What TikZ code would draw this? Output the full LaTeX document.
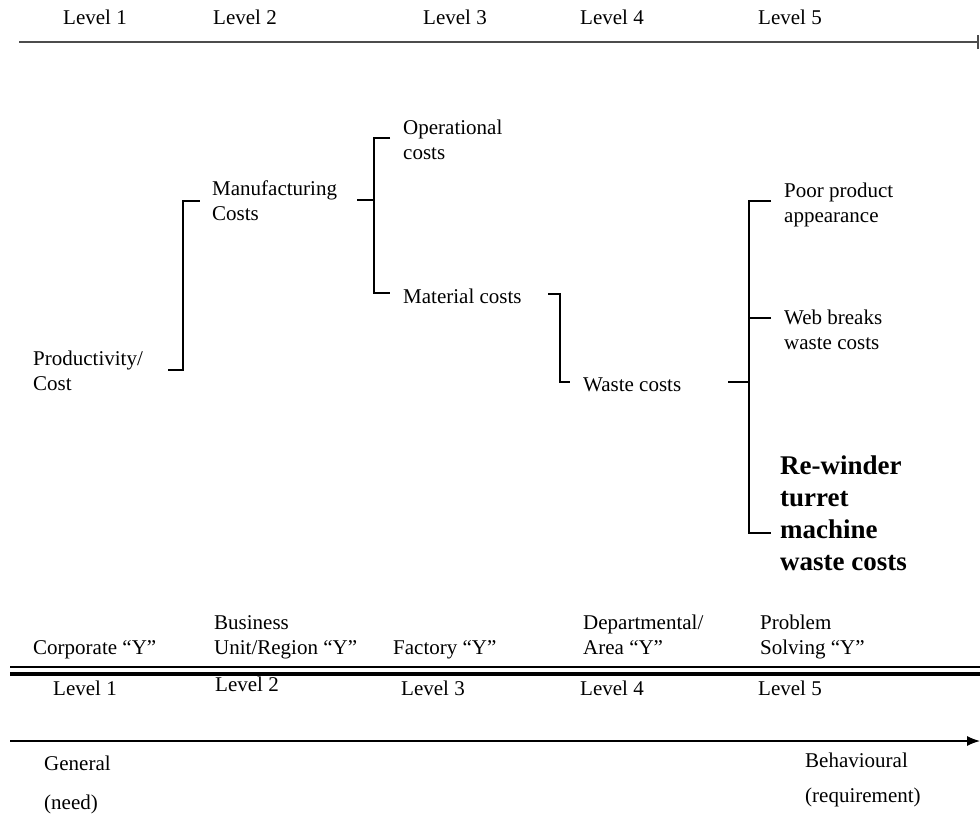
\documentclass[tikz,border=0pt]{standalone}
\usepackage{fontspec}
\setmainfont{Liberation Serif}
\usetikzlibrary{arrows.meta}
\begin{document}
\begin{tikzpicture}[x=1pt,y=-1pt,
  lbl/.style={anchor=base west,inner sep=0pt,font=\fontsize{21}{25}\selectfont,align=left},
  lvl/.style={anchor=base,inner sep=0pt,font=\fontsize{21}{25}\selectfont},
  boldlbl/.style={anchor=base west,inner sep=0pt,font=\fontsize{27}{32}\selectfont\bfseries,align=left},
  brk/.style={line width=1.3pt,black},
  brtick/.style={line width=2pt,black},
  axis/.style={line width=1.4pt,black!70}]
\useasboundingbox (0,0) rectangle (980,815);
% top axis
\node[lvl] (t1) at (95,24) {Level 1};
\node[lvl] (t2) at (245,24) {Level 2};
\node[lvl] (t3) at (455,24) {Level 3};
\node[lvl] (t4) at (612,24) {Level 4};
\node[lvl] (t5) at (790,24) {Level 5};
\coordinate (ta) at (19,42);
\coordinate (tb) at (978,42);
\draw[axis] (ta) -- (tb);
\draw[axis] ([yshift=-7pt]tb) -- ([yshift=7pt]tb);
% tree nodes (multi-line nodes: position = baseline of last line)
\node[lbl] (prod) at (33,390) {Productivity/\\Cost};
\node[lbl] (manu) at (212,220) {Manufacturing\\Costs};
\node[lbl] (oper) at (403,159) {Operational\\costs};
\node[lbl] (mat) at (403,303) {Material costs};
\node[lbl] (waste) at (583,391) {Waste costs};
\node[lbl] (poor) at (784,222) {Poor product\\appearance};
\node[lbl] (web) at (784,349) {Web breaks\\waste costs};
\node[boldlbl] (rew) at (780,570) {Re-winder\\turret\\machine\\waste costs};
% bracket 1
\coordinate (b1s) at (168,370);
\coordinate (b1e) at (200,201);
\draw[brk] (b1s) -| (b1e -| 183,0) -- (b1e);
% bracket 2
\coordinate (b2s) at (357,200);
\coordinate (b2j) at (374,200);
\coordinate (b2a) at (390,138);
\coordinate (b2b) at (390,293);
\draw[brtick] (b2s) -- (b2j);
\draw[brk] (b2a) -| (b2j) |- (b2b);
% bracket 3
\coordinate (b3s) at (548,294);
\coordinate (b3e) at (570,382);
\draw[brk] (b3s) -| (b3e -| 560,0) -- (b3e);
% bracket 4
\coordinate (b4s) at (728,382);
\coordinate (b4j) at (749,382);
\coordinate (b4a) at (771,201);
\coordinate (b4b) at (771,318);
\coordinate (b4c) at (771,533);
\draw[brtick] (b4s) -- (b4j);
\draw[brk] (b4a) -| (b4j) |- (b4c);
\draw[brk] (b4b) -- (b4b -| b4j);
% bottom labels
\node[lbl] (corp) at (33,654) {Corporate “Y”};
\node[lbl] (bus) at (214,654) {Business\\Unit/Region “Y”};
\node[lbl] (fact) at (393,654) {Factory “Y”};
\node[lbl] (dept) at (583,654) {Departmental/\\Area “Y”};
\node[lbl] (prob) at (760,654) {Problem\\Solving “Y”};
\coordinate (d1a) at (10,667);
\coordinate (d1b) at (980,667);
\coordinate (d2a) at (10,674);
\coordinate (d2b) at (980,674);
\draw[line width=1.3pt] (d1a) -- (d1b);
\draw[line width=4pt] (d2a) -- (d2b);
\node[lvl] (u1) at (85,695) {Level 1};
\node[lvl] (u2) at (247,691) {Level 2};
\node[lvl] (u3) at (433,695) {Level 3};
\node[lvl] (u4) at (612,695) {Level 4};
\node[lvl] (u5) at (790,695) {Level 5};
\coordinate (aa) at (10,741);
\coordinate (ab) at (980,741);
\draw[line width=1.3pt,-{Latex[length=13pt,width=10pt]}] (aa) -- (ab);
\node[lbl] (gen) at (44,770) {General};
\node[lbl] (need) at (44,809) {(need)};
\node[lbl] (beh) at (805,767) {Behavioural};
\node[lbl] (req) at (805,802) {(requirement)};
\end{tikzpicture}
\end{document}
